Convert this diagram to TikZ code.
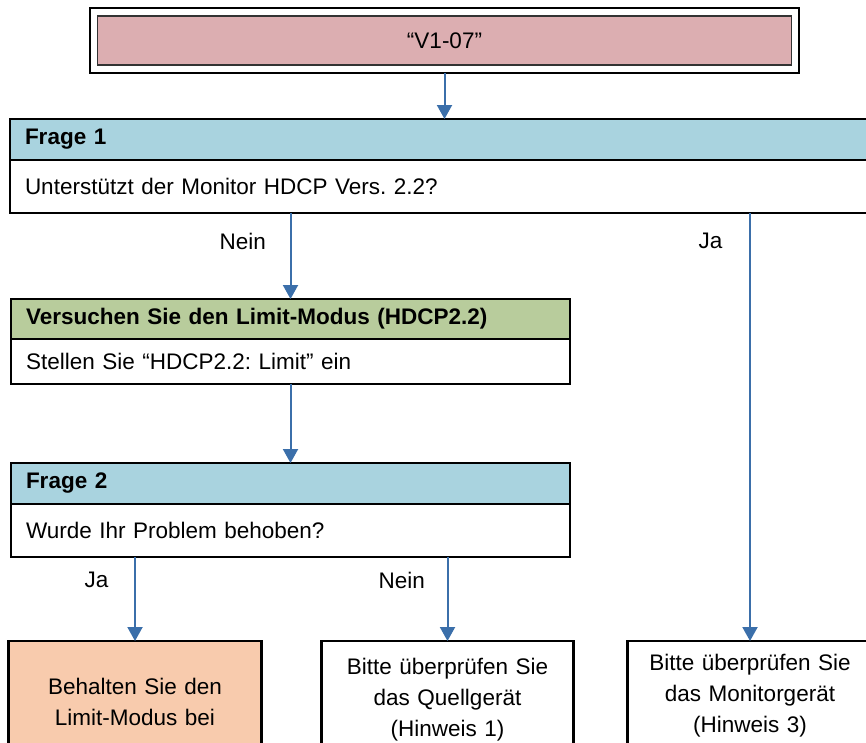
\documentclass[tikz,border=0pt]{standalone}
\usepackage{fontspec}
\setmainfont{Liberation Sans}
\usepackage{tikz}
\usetikzlibrary{arrows.meta, positioning, calc}
\frenchspacing

\definecolor{codepink}{HTML}{DCAEB1}
\definecolor{headblue}{HTML}{A9D3DF}
\definecolor{headgreen}{HTML}{B8CC9C}
\definecolor{keeporange}{HTML}{F8CBAD}
\definecolor{flowblue}{HTML}{3B6FAA}

\tikzset{
  hdr/.style={draw=black, line width=2.4pt, fill=#1, anchor=north west, outer sep=0pt,
    minimum height=41pt, inner xsep=15pt, align=left, font=\fontsize{22.5}{26}\selectfont\bfseries},
  bdy/.style={draw=black, line width=2.4pt, fill=white, anchor=north west, outer sep=0pt,
    minimum height=#1, inner xsep=15pt, align=left, font=\fontsize{22.5}{26}\selectfont},
  endbox/.style={draw=black, line width=2.4pt, fill=#1, anchor=north, outer sep=0pt,
    minimum height=118pt, align=center, font=\fontsize{22.5}{31}\selectfont},
  flow/.style={draw=flowblue, line width=2pt, -{Triangle[width=15pt,length=14pt]}},
  lbl/.style={anchor=east, font=\fontsize{22.5}{26}\selectfont}
}

\begin{document}
\begin{tikzpicture}[x=1pt, y=-1pt]
\useasboundingbox (0,0) rectangle (866,742);
\clip (0,0) rectangle (866,742);

% error code
\node[draw=black, line width=2.7pt, outer sep=0pt, minimum width=709pt, minimum height=65pt,
  anchor=north west] (codeframe) at (90,8) {};
\node[draw=black!80, line width=1.2pt, fill=codepink, minimum width=694pt, minimum height=49pt,
  font=\fontsize{22.5}{26}\selectfont] (code) at (codeframe.center) {“V1-07”};

% question 1
\node[hdr=headblue, text width=840pt] (q1head) at (10,119) {Frage 1};
\node[bdy=53pt, text width=840pt] (q1body) at (q1head.south west) {Unterstützt der Monitor HDCP Vers. 2.2?};

% limit mode
\node[hdr=headgreen, text width=529pt, minimum height=40pt] (tryhead) at (11,299) {Versuchen Sie den Limit-Modus (HDCP2.2)};
\node[bdy=45pt, text width=529pt] (trybody) at (tryhead.south west) {Stellen Sie “HDCP2.2: Limit” ein};

% question 2
\node[hdr=headblue, text width=529pt] (q2head) at (11,463) {Frage 2};
\node[bdy=53pt, text width=529pt] (q2body) at (q2head.south west) {Wurde Ihr Problem behoben?};

% results
\node[endbox=keeporange, text width=246pt, minimum height=122pt] (keep) at (135,641) {Behalten Sie den\\Limit-Modus bei};
\node[endbox=white, text width=245pt] (source) at (447.5,641) {Bitte überprüfen Sie\\das Quellgerät\\(Hinweis 1)};
\node[endbox=white, text width=238pt, minimum height=110pt] (monitor) at (750,641) {Bitte überprüfen Sie\\das Monitorgerät\\(Hinweis 3)};

% connectors
\draw[flow] (codeframe.south) -- (codeframe.south |- q1head.north);
\draw[flow] (q1body.south -| q2head.north) -- (tryhead.north -| q2head.north);
\draw[flow] (trybody.south -| q2head.north) -- (q2head.north);
\draw[flow] (q1body.south -| monitor.north) -- (monitor.north);
\draw[flow] (q2body.south -| keep.north) -- (keep.north);
\draw[flow] (q2body.south -| source.north) -- (source.north);

% answers
\node[lbl] (q1no) at ($(q1body.south -| q2head.north)+(-21,28)$) {Nein};
\node[lbl] (q1yes) at ($(q1body.south -| monitor.north)+(-24,28)$) {Ja};
\node[lbl] (q2yes) at ($(q2body.south -| keep.north)+(-23,23)$) {Ja};
\node[lbl] (q2no) at ($(q2body.south -| source.north)+(-19,23)$) {Nein};
\end{tikzpicture}
\end{document}
